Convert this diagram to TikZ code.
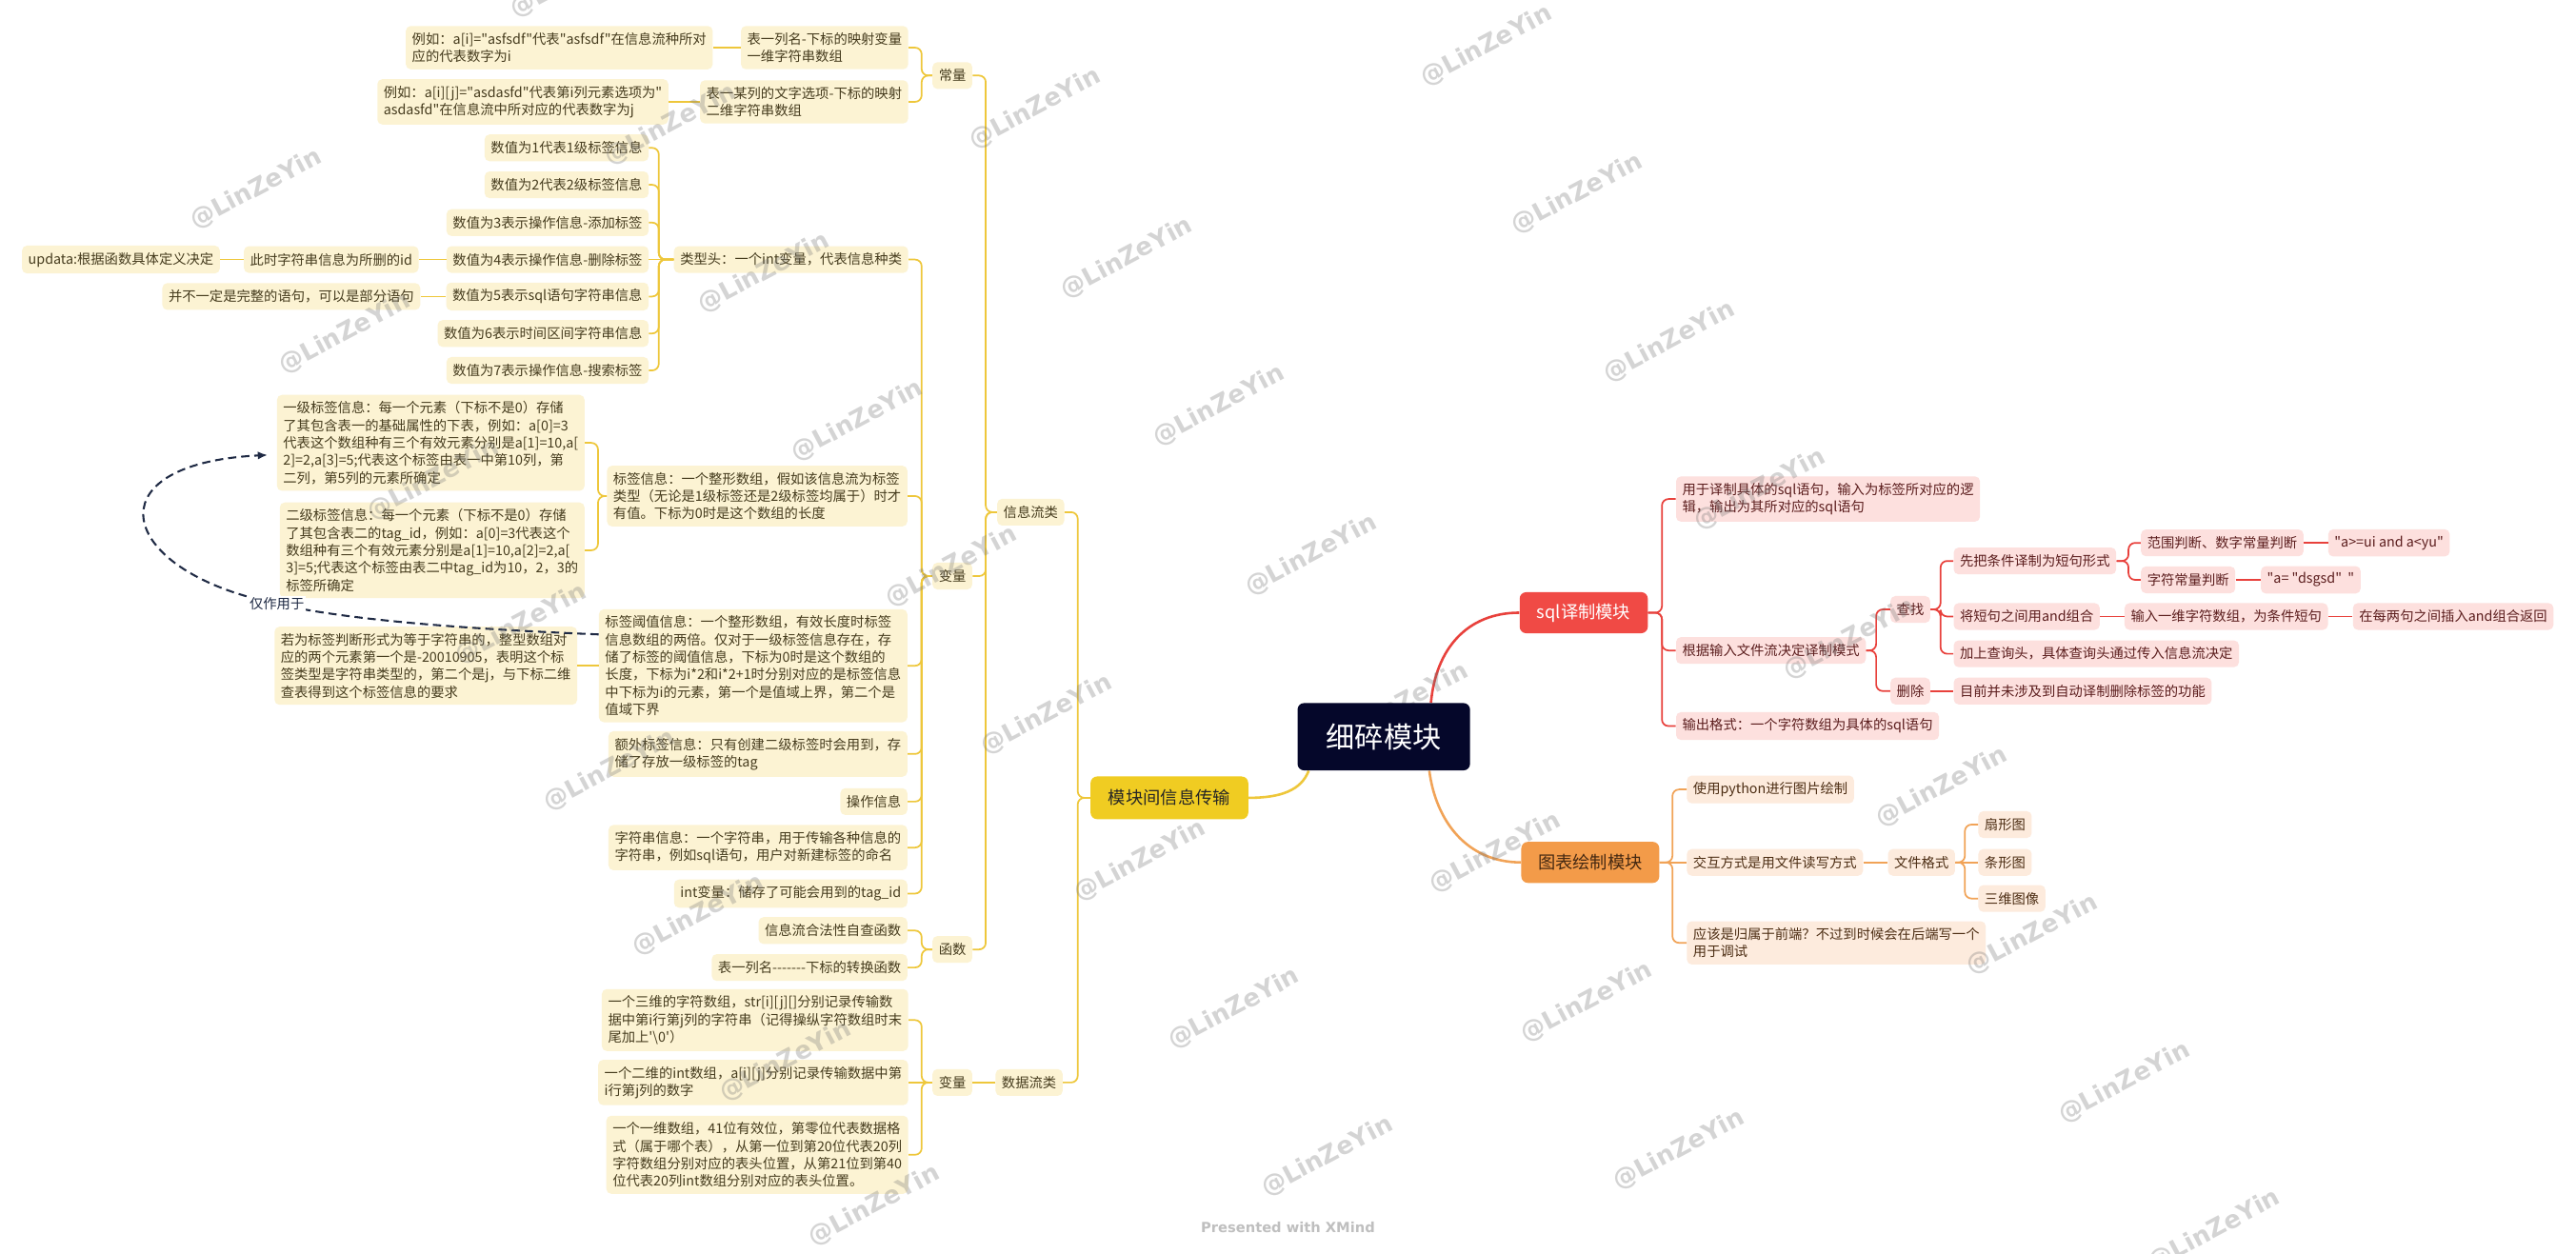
\documentclass[tikz,border=0pt]{standalone}
\usepackage{fontspec}
\newfontfamily\cjk{Noto Sans CJK SC}
\newfontfamily\wmfont{DejaVu Sans}
\usetikzlibrary{arrows.meta}
\definecolor{ylfill}{HTML}{FCF3D3}
\definecolor{yltext}{HTML}{463C1E}
\definecolor{ylline}{HTML}{EEC73B}
\definecolor{ylmain}{HTML}{F0CC22}
\definecolor{rdfill}{HTML}{FDE0DE}
\definecolor{rdtext}{HTML}{5C1E1E}
\definecolor{rdline}{HTML}{E8413C}
\definecolor{rdmain}{HTML}{F04A45}
\definecolor{orfill}{HTML}{FDEBDD}
\definecolor{ortext}{HTML}{4D2E14}
\definecolor{orline}{HTML}{F1A357}
\definecolor{ormain}{HTML}{F39B49}
\definecolor{ctrfill}{HTML}{05072A}
\definecolor{dashc}{HTML}{1F2A44}
\begin{document}
\begin{tikzpicture}[x=1pt,y=-1pt,
  leaf/.style={rounded corners=3pt, inner xsep=3.8pt, inner ysep=4pt, minimum height=16.3pt, align=left, font=\cjk\fontsize{8.3}{10.6}\selectfont},
  yleaf/.style={leaf, fill=ylfill, text=yltext},
  rleaf/.style={leaf, fill=rdfill, text=rdtext},
  oleaf/.style={leaf, fill=orfill, text=ortext},
  modbox/.style={rounded corners=4pt, inner sep=0pt, font=\cjk\fontsize{10.6}{12}\selectfont},
  ctrbox/.style={rounded corners=4pt, minimum width=105pt, minimum height=41pt, inner sep=0pt},
  conn/.style={line width=1pt, rounded corners=4pt},
  ylink/.style={conn, draw=ylline},
  rlink/.style={conn, draw=rdline},
  olink/.style={conn, draw=orline},
  mainlink/.style={line width=1.5pt},
  wm/.style={font=\wmfont\bfseries\fontsize{15}{15}\selectfont, text=black!55, text opacity=0.3, rotate=28, inner sep=0pt},
]
\useasboundingbox (0,0) rectangle (1568,763.4);
\fill[white] (0,0) rectangle (1568,763.4);

% ---------- main nodes ----------
\node[ctrbox] (c) at (842.3,448.5) {};
\node[modbox, fill=ylmain, text=black!85, minimum width=96pt, minimum height=26pt] (m) at (711.8,485.7) {模块间信息传输};
\node[modbox, fill=rdmain, text=white, minimum width=78pt, minimum height=25pt] (sql) at (964,373) {sql译制模块};
\node[modbox, fill=ormain, text=ortext!90!black, minimum width=84pt, minimum height=25pt] (tb) at (968,525) {图表绘制模块};

% ---------- left (yellow) tree ----------
\node[yleaf, anchor=east] (xxl) at (648,311.8) {信息流类};
\node[yleaf, anchor=east] (sjl) at (647,659) {数据流类};
\node[yleaf, anchor=east] (cl) at (592,46) {常量};
\node[yleaf, anchor=east] (bl1) at (592,350.7) {变量};
\node[yleaf, anchor=east] (hs) at (592,578) {函数};
\node[yleaf, anchor=east] (bl2) at (592,659) {变量};

\node[yleaf, anchor=east] (a1) at (553,29) {表一列名-下标的映射变量\\一维字符串数组};
\node[yleaf, anchor=east] (a1c) at (434,29) {例如：a[i]="asfsdf"代表"asfsdf"在信息流种所对\\应的代表数字为i};
\node[yleaf, anchor=east] (a2) at (553,62) {表一某列的文字选项-下标的映射\\二维字符串数组};
\node[yleaf, anchor=east] (a2c) at (407,62) {例如：a[i][j]="asdasfd"代表第i列元素选项为"\\asdasfd"在信息流中所对应的代表数字为j};

\node[yleaf, anchor=east] (lxt) at (553,158) {类型头：一个int变量，代表信息种类};
\node[yleaf, anchor=east] (v1) at (395,90) {数值为1代表1级标签信息};
\node[yleaf, anchor=east] (v2) at (395,112.5) {数值为2代表2级标签信息};
\node[yleaf, anchor=east] (v3) at (395,135.5) {数值为3表示操作信息-添加标签};
\node[yleaf, anchor=east] (v4) at (395,158) {数值为4表示操作信息-删除标签};
\node[yleaf, anchor=east] (v5) at (395,180.5) {数值为5表示sql语句字符串信息};
\node[yleaf, anchor=east] (v6) at (395,203) {数值为6表示时间区间字符串信息};
\node[yleaf, anchor=east] (v7) at (395,225.5) {数值为7表示操作信息-搜索标签};
\node[yleaf, anchor=east] (cs) at (255,158) {此时字符串信息为所删的id};
\node[yleaf, anchor=east] (ud) at (134,158) {updata:根据函数具体定义决定};
\node[yleaf, anchor=east] (bby) at (256,180.5) {并不一定是完整的语句，可以是部分语句};

\node[yleaf, anchor=east] (bq) at (552.5,302) {标签信息：一个整形数组，假如该信息流为标签\\类型（无论是1级标签还是2级标签均属于）时才\\有值。下标为0时是这个数组的长度};
\node[yleaf, anchor=east] (yj) at (356,269.6) {一级标签信息：每一个元素（下标不是0）存储\\了其包含表一的基础属性的下表，例如：a[0]=3\\代表这个数组种有三个有效元素分别是a[1]=10,a[\\2]=2,a[3]=5;代表这个标签由表一中第10列，第\\二列，第5列的元素所确定};
\node[yleaf, anchor=east] (ej) at (356,335) {二级标签信息：每一个元素（下标不是0）存储\\了其包含表二的tag\_id，例如：a[0]=3代表这个\\数组种有三个有效元素分别是a[1]=10,a[2]=2,a[\\3]=5;代表这个标签由表二中tag\_id为10，2，3的\\标签所确定};
\node[yleaf, anchor=east] (yz) at (552.5,405.3) {标签阈值信息：一个整形数组，有效长度时标签\\信息数组的两倍。仅对于一级标签信息存在，存\\储了标签的阈值信息，下标为0时是这个数组的\\长度，下标为i*2和i*2+1时分别对应的是标签信息\\中下标为i的元素，第一个是值域上界，第二个是\\值域下界};
\node[yleaf, anchor=east] (rw) at (351.5,405.3) {若为标签判断形式为等于字符串的，整型数组对\\应的两个元素第一个是-20010905，表明这个标\\签类型是字符串类型的，第二个是j，与下标二维\\查表得到这个标签信息的要求};
\node[yleaf, anchor=east] (ew) at (552.5,459) {额外标签信息：只有创建二级标签时会用到，存\\储了存放一级标签的tag};
\node[yleaf, anchor=east] (czxx) at (552.5,488) {操作信息};
\node[yleaf, anchor=east] (zfc) at (552.5,516) {字符串信息：一个字符串，用于传输各种信息的\\字符串，例如sql语句，用户对新建标签的命名};
\node[yleaf, anchor=east] (intv) at (552.5,544) {int变量：储存了可能会用到的tag\_id};
\node[yleaf, anchor=east] (hf) at (552.5,566.5) {信息流合法性自查函数};
\node[yleaf, anchor=east] (zh) at (552.5,589) {表一列名-------下标的转换函数};
\node[yleaf, anchor=east] (sw) at (553,621) {一个三维的字符数组，str[i][j][]分别记录传输数\\据中第i行第j列的字符串（记得操纵字符数组时末\\尾加上'\textbackslash 0'）};
\node[yleaf, anchor=east] (ew2) at (553,659) {一个二维的int数组，a[i][j]分别记录传输数据中第\\i行第j列的数字};
\node[yleaf, anchor=east] (yw) at (553,703) {一个一维数组，41位有效位，第零位代表数据格\\式（属于哪个表），从第一位到第20位代表20列\\字符数组分别对应的表头位置，从第21位到第40\\位代表20列int数组分别对应的表头位置。};

% ---------- right (red) tree ----------
\node[rleaf, anchor=west] (r1) at (1020,303.8) {用于译制具体的sql语句，输入为标签所对应的逻\\辑，输出为其所对应的sql语句};
\node[rleaf, anchor=west] (r2) at (1020,396) {根据输入文件流决定译制模式};
\node[rleaf, anchor=west] (r3) at (1020,442) {输出格式：一个字符数组为具体的sql语句};
\node[rleaf, anchor=west] (czh) at (1150.5,371) {查找};
\node[rleaf, anchor=west] (sch) at (1150.5,420.7) {删除};
\node[rleaf, anchor=west] (xb) at (1189,341.5) {先把条件译制为短句形式};
\node[rleaf, anchor=west] (jdj) at (1189,375.3) {将短句之间用and组合};
\node[rleaf, anchor=west] (jsh) at (1189,398) {加上查询头，具体查询头通过传入信息流决定};
\node[rleaf, anchor=west] (mq) at (1189,420.7) {目前并未涉及到自动译制删除标签的功能};
\node[rleaf, anchor=west] (fw) at (1303,330.5) {范围判断、数字常量判断};
\node[rleaf, anchor=west] (zfcl) at (1303,353) {字符常量判断};
\node[rleaf, anchor=west] (aui) at (1417,330.5) {"a>=ui and a<yu"};
\node[rleaf, anchor=west] (ads) at (1376,353) {"a= "dsgsd"\ \ "};
\node[rleaf, anchor=west] (sryw) at (1293,375.3) {输入一维字符数组，为条件短句};
\node[rleaf, anchor=west] (zmlj) at (1432,375.3) {在每两句之间插入and组合返回};

% ---------- right (orange) tree ----------
\node[oleaf, anchor=west] (py) at (1026.6,480.6) {使用python进行图片绘制};
\node[oleaf, anchor=west] (jh) at (1026.6,525) {交互方式是用文件读写方式};
\node[oleaf, anchor=west] (yg) at (1026.6,574) {应该是归属于前端？不过到时候会在后端写一个\\用于调试};
\node[oleaf, anchor=west] (wj) at (1149,525) {文件格式};
\node[oleaf, anchor=west] (sx) at (1204,502) {扇形图};
\node[oleaf, anchor=west] (tx) at (1204,525) {条形图};
\node[oleaf, anchor=west] (swtx) at (1204,547) {三维图像};

% ---------- vertical guide coordinates ----------
\coordinate (vY) at (656,0);
\coordinate (vX) at (600,0);
\coordinate (vL) at (561,0);
\coordinate (vT) at (401,0);
\coordinate (vB) at (364,0);
\coordinate (vR) at (1011.6,0);
\coordinate (vR2) at (1142,0);
\coordinate (vR3) at (1181.2,0);
\coordinate (vR4) at (1295.6,0);
\coordinate (vO) at (1018,0);
\coordinate (vO2) at (1196,0);

% ---------- main curves ----------
\draw[ylink, mainlink] ([xshift=7pt]c.south west) .. controls (792,481) and (780,485.7) .. (m.east);
\draw[rlink, mainlink] ([xshift=-24pt]c.north east) .. controls (874,395) and (893,373) .. (sql.west);
\draw[olink, mainlink] ([xshift=-25pt]c.south east) .. controls (874,500) and (893,525) .. (tb.west);

% ---------- yellow links ----------
\foreach \t in {xxl,sjl} \draw[ylink] (m.west) -- (vY |- m.west) |- (\t.east);
\foreach \t in {cl,bl1,hs} \draw[ylink] (xxl.west) -- (vX |- xxl.west) |- (\t.east);
\draw[ylink] (sjl.west) -- (bl2.east);
\foreach \t in {a1,a2} \draw[ylink] (cl.west) -- (vL |- cl.west) |- (\t.east);
\draw[ylink] (a1.west) -- (a1c.east);
\draw[ylink] (a2.west) -- (a2c.east);
\foreach \t in {lxt,bq,yz,ew,czxx,zfc,intv} \draw[ylink] (bl1.west) -- (vL |- bl1.west) |- (\t.east);
\foreach \t in {hf,zh} \draw[ylink] (hs.west) -- (vL |- hs.west) |- (\t.east);
\foreach \t in {sw,yw} \draw[ylink] (bl2.west) -- (vL |- bl2.west) |- (\t.east);
\draw[ylink] (bl2.west) -- (ew2.east);
\foreach \t in {v1,v2,v3,v5,v6,v7} \draw[ylink] (lxt.west) -- (vT |- lxt.west) |- (\t.east);
\draw[ylink] (lxt.west) -- (v4.east);
\draw[ylink] (v4.west) -- (cs.east);
\draw[ylink] (cs.west) -- (ud.east);
\draw[ylink] (v5.west) -- (bby.east);
\foreach \t in {yj,ej} \draw[ylink] (bq.west) -- (vB |- bq.west) |- (\t.east);
\draw[ylink] (yz.west) -- (rw.east);

% ---------- red links ----------
\foreach \t in {r1,r2,r3} \draw[rlink] (sql.east) -- (vR |- sql.east) |- (\t.west);
\foreach \t in {czh,sch} \draw[rlink] (r2.east) -- (vR2 |- r2.east) |- (\t.west);
\foreach \t in {xb,jdj,jsh} \draw[rlink] (czh.east) -- (vR3 |- czh.east) |- (\t.west);
\foreach \t in {fw,zfcl} \draw[rlink] (xb.east) -- (vR4 |- xb.east) |- (\t.west);
\draw[rlink] (fw.east) -- (aui.west);
\draw[rlink] (zfcl.east) -- (ads.west);
\draw[rlink] (jdj.east) -- (sryw.west);
\draw[rlink] (sryw.east) -- (zmlj.west);
\draw[rlink] (sch.east) -- (mq.west);

% ---------- orange links ----------
\foreach \t in {py,yg} \draw[olink] (tb.east) -- (vO |- tb.east) |- (\t.west);
\draw[olink] (tb.east) -- (jh.west);
\draw[olink] (jh.east) -- (wj.west);
\foreach \t in {sx,swtx} \draw[olink] (wj.east) -- (vO2 |- wj.east) |- (\t.west);
\draw[olink] (wj.east) -- (tx.west);

% ---------- dashed relation ----------
\coordinate (dstart) at ([yshift=-15.5pt]yz.north west);
\coordinate (dend) at ([xshift=-5.5pt,yshift=-7.4pt]yj.west);
\draw[dashc, line width=1.2pt, dash pattern=on 5pt off 3pt, -{Latex[length=6pt,width=5pt]}]
  (dstart) .. controls (260,382) and (190,375) .. (150,363)
  .. controls (70,340) and (60,282) .. (dend);
\node[fill=white, inner sep=0.8pt, text=dashc, font=\cjk\fontsize{8.3}{10}\selectfont] (lbl) at (168.5,367.5) {仅作用于};

% ---------- watermarks ----------
\foreach \x/\y in {156/115,210/203,264/292,317/380,371/469,425/557,478/646,532/734,
  351/-14,408/76,465/166,522/256,579/345,637/435,694/524,751/614,808/704,
  574/-25,630/66,686/157,742/247,798/338,854/428,910/519,966/610,1022/700,
  905/28,960/118,1016/208,1071/298,1126/389,1182/479,1237/569,1293/659,1348/749}
  \node[wm] at (\x,\y) {@LinZeYin};

% central topic drawn last so that it covers the watermark
\node[ctrbox, fill=ctrfill, text=white, font=\cjk\fontsize{17.5}{20}\selectfont] (ctext) at (c.center) {细碎模块};

\node[font=\wmfont\bfseries\fontsize{8.5}{10}\selectfont, text=black!25] (pw) at (784,747) {Presented with XMind};
\end{tikzpicture}
\end{document}
